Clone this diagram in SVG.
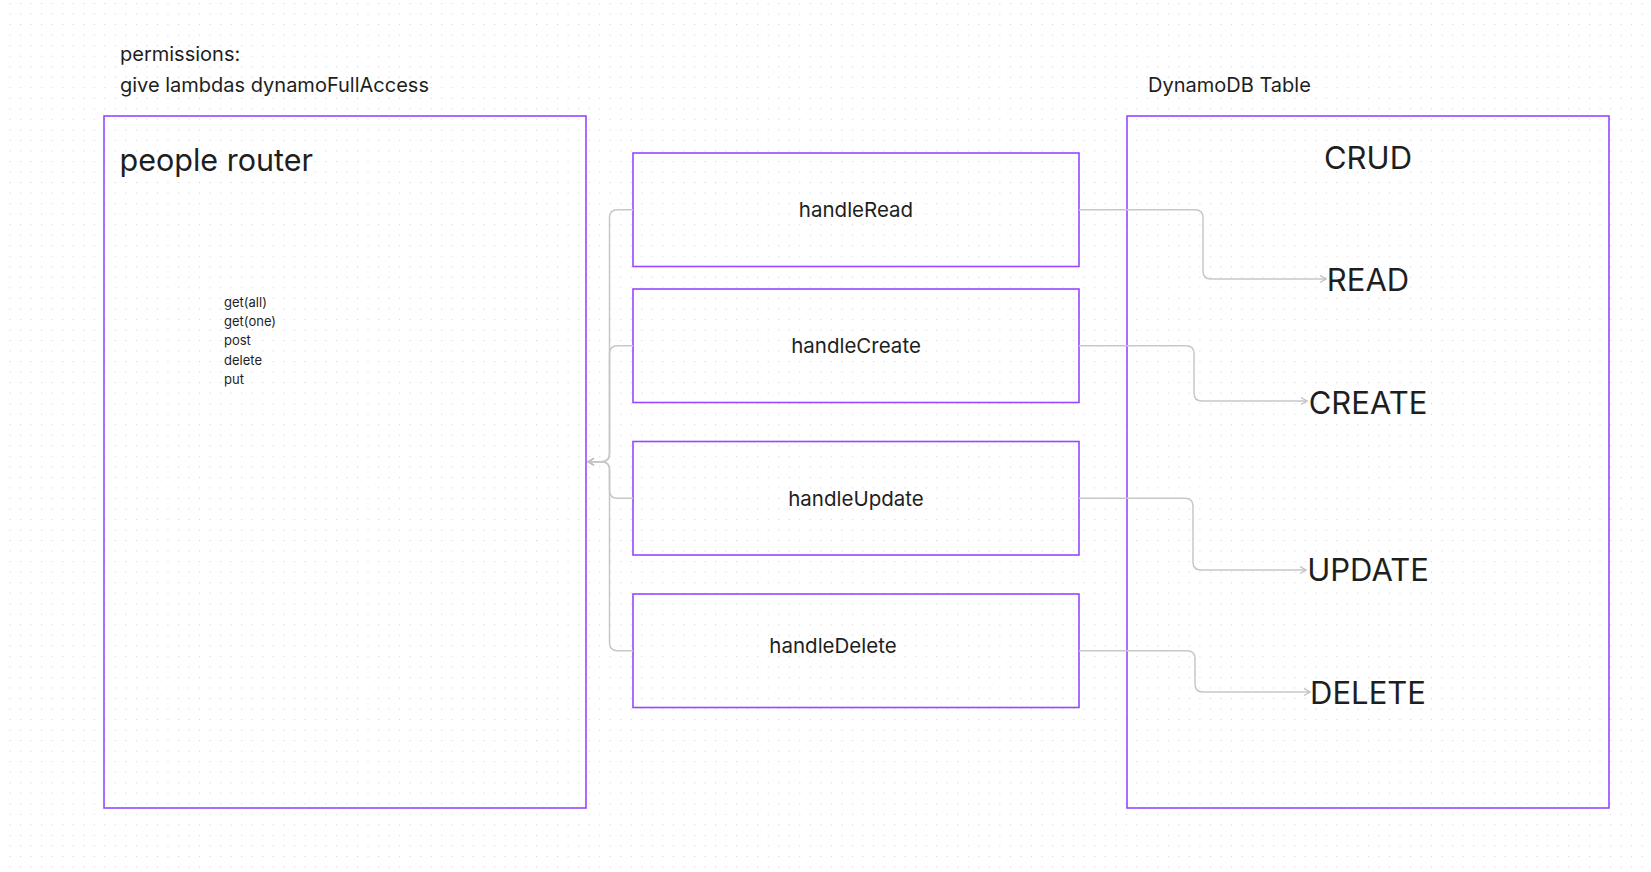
<svg xmlns="http://www.w3.org/2000/svg" width="1651" height="872" viewBox="0 0 1651 872">
<style>
.box{fill:none;stroke:#9747FF;stroke-width:1.6}
.t{font-family:Inter,"Noto Sans","Liberation Sans",sans-serif;fill:#1e1e1e}
.conn{fill:none;stroke:#c7c7c7;stroke-width:1.5}
</style>
<defs>
<pattern id="dots" x="9.5" y="3" width="10.53" height="10.53" patternUnits="userSpaceOnUse">
<rect x="0" y="0" width="1.1" height="1.1" fill="#d4d4d4"/>
</pattern>
<marker id="arr" markerWidth="10" markerHeight="10" refX="7" refY="4" orient="auto" markerUnits="userSpaceOnUse">
<path d="M1,0.5 L7,4 L1,7.5" fill="none" stroke="#c0c0c0" stroke-width="1.3"/>
</marker>
</defs>
<rect width="1651" height="872" fill="#ffffff"/>
<rect width="1651" height="872" fill="url(#dots)"/>

<g id="permissions">
<text class="t" x="120" y="61" font-size="20">permissions:</text>
<text class="t" x="120" y="91.5" font-size="20">give lambdas dynamoFullAccess</text>
</g>
<g id="dynamo-label">
<text class="t" x="1148" y="92" font-size="20">DynamoDB Table</text>
</g>

<g id="people-router">
<rect class="box" x="104" y="116" width="482" height="692"/>
<text class="t" x="119.5" y="171" font-size="30.5">people router</text>
<text class="t" x="224" y="306.5" font-size="13">get(all)</text>
<text class="t" x="224" y="326" font-size="13">get(one)</text>
<text class="t" x="224" y="345" font-size="13">post</text>
<text class="t" x="224" y="364.5" font-size="13">delete</text>
<text class="t" x="224" y="383.5" font-size="13">put</text>
</g>

<g id="handleRead">
<rect class="box" x="633" y="153" width="446" height="113.5"/>
<text class="t" x="856" y="217" font-size="20.5" text-anchor="middle">handleRead</text>
</g>
<g id="handleCreate">
<rect class="box" x="633" y="289" width="446" height="113.5"/>
<text class="t" x="856" y="353" font-size="20.5" text-anchor="middle">handleCreate</text>
</g>
<g id="handleUpdate">
<rect class="box" x="633" y="441.5" width="446" height="113.5"/>
<text class="t" x="856" y="505.5" font-size="20.5" text-anchor="middle">handleUpdate</text>
</g>
<g id="handleDelete">
<rect class="box" x="633" y="594" width="446" height="113.5"/>
<text class="t" x="833" y="653" font-size="20.5" text-anchor="middle">handleDelete</text>
</g>

<g id="dynamodb-table">
<rect class="box" x="1127" y="116" width="482" height="692"/>
<text class="t" x="1368" y="169" font-size="31" text-anchor="middle">CRUD</text>
<text class="t" x="1368" y="290.5" font-size="31" text-anchor="middle">READ</text>
<text class="t" x="1368" y="413.5" font-size="31" text-anchor="middle">CREATE</text>
<text class="t" x="1368" y="581" font-size="31" text-anchor="middle">UPDATE</text>
<text class="t" x="1368" y="704" font-size="31" text-anchor="middle">DELETE</text>
</g>

<g id="connectors">
<path class="conn" d="M633,209.8 H617.5 Q609.5,209.8 609.5,217.8 V453.7 Q609.5,461.7 601.5,461.7 H588" marker-end="url(#arr)"/>
<path class="conn" d="M633,345.7 H617.5 Q609.5,345.7 609.5,353.7 V453.7 Q609.5,461.7 601.5,461.7 H588" marker-end="url(#arr)"/>
<path class="conn" d="M633,498.2 H617.5 Q609.5,498.2 609.5,490.2 V469.7 Q609.5,461.7 601.5,461.7 H588" marker-end="url(#arr)"/>
<path class="conn" d="M633,650.8 H617.5 Q609.5,650.8 609.5,642.8 V469.7 Q609.5,461.7 601.5,461.7 H588" marker-end="url(#arr)"/>

<path class="conn" d="M1079,209.8 H1195 Q1203,209.8 1203,217.8 V271 Q1203,279 1211,279 H1326" marker-end="url(#arr)"/>
<path class="conn" d="M1079,345.7 H1186 Q1194,345.7 1194,353.7 V393 Q1194,401 1202,401 H1307" marker-end="url(#arr)"/>
<path class="conn" d="M1079,498.2 H1185 Q1193,498.2 1193,506.2 V562 Q1193,570 1201,570 H1306" marker-end="url(#arr)"/>
<path class="conn" d="M1079,650.8 H1187 Q1195,650.8 1195,658.8 V684 Q1195,692 1203,692 H1310" marker-end="url(#arr)"/>
</g>
</svg>
